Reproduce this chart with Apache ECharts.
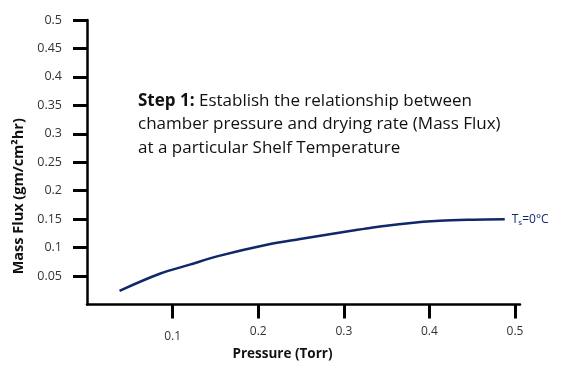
<!DOCTYPE html>
<html>
<head>
<meta charset="utf-8">
<script src="https://cdn.jsdelivr.net/npm/echarts@6/dist/echarts.min.js"></script>
<style>html,body{margin:0;padding:0;background:#fff;}#c{width:567px;height:369px;}</style>
</head>
<body>
<div id="c"></div>
<script>
// Data
var pressure = [0.038, 0.085, 0.120, 0.153, 0.210, 0.249, 0.307, 0.334, 0.373, 0.412, 0.451, 0.488];
var massFlux = [0.024, 0.054, 0.070, 0.085, 0.105, 0.115, 0.129, 0.1355, 0.1425, 0.147, 0.149, 0.150];
var xTicks = [0.1, 0.2, 0.3, 0.4, 0.5];
var yTicks = [0.05, 0.1, 0.15, 0.2, 0.25, 0.3, 0.35, 0.4, 0.45, 0.5];
var seriesName = 'Ts=0°C';
var noteLines = ['Establish the relationship between', 'chamber pressure and drying rate (Mass Flux)', 'at a particular Shelf Temperature'];

var navy = '#10286a';
var font = '"Open Sans", "Noto Sans", sans-serif';
var chart = echarts.init(document.getElementById('c'), null, {renderer: 'canvas'});
var pts = pressure.map(function (p, i) { return [p, massFlux[i]]; });

chart.setOption({
  animation: false,
  backgroundColor: '#fff',
  title: {
    left: 133, top: 84,
    text: '{b|Step 1:} ' + noteLines.join('\n'),
    textStyle: {
      fontFamily: font, fontSize: 17, color: '#111', lineHeight: 23.5, fontWeight: 'normal',
      rich: { b: { fontFamily: font, fontSize: 17, fontWeight: 'bold', color: '#111', lineHeight: 23.5 } }
    }
  },
  grid: { left: 87, top: 20, right: 47, bottom: 64.5, containLabel: false },
  xAxis: {
    type: 'value', min: 0, max: 0.5058,
    name: 'Pressure (Torr)', nameLocation: 'middle', nameGap: 36,
    nameTextStyle: { fontFamily: font, fontSize: 13.5, fontWeight: 'bold', color: '#111', padding: [0, 42, 0, 0] },
    axisLine: { show: true, onZero: false, lineStyle: { color: '#000', width: 2.5 } },
    axisTick: { show: true, customValues: xTicks, length: 14, lineStyle: { color: '#000', width: 3 } },
    axisLabel: {
      customValues: xTicks, margin: 21, fontFamily: font, fontSize: 12, color: '#333',
      formatter: function (v) { var s = String(Math.round(v * 10) / 10); return v < 0.15 ? '{lo|' + s + '}' : s; },
      rich: { lo: { padding: [5, 0, 0, 0], fontFamily: font, fontSize: 12, color: '#333' } }
    },
    splitLine: { show: false }
  },
  yAxis: {
    type: 'value', min: 0, max: 0.5,
    name: 'Mass Flux (gm/cm²hr)', nameLocation: 'middle', nameGap: 61, nameRotate: 90,
    nameTextStyle: { fontFamily: font, fontSize: 14.5, fontWeight: 'bold', color: '#111', padding: [0, 68, 0, 0] },
    axisLine: { show: true, onZero: false, lineStyle: { color: '#000', width: 2.5 } },
    axisTick: { show: true, customValues: yTicks, length: 14, lineStyle: { color: '#000', width: 3 } },
    axisLabel: {
      customValues: yTicks, margin: 25, fontFamily: font, fontSize: 12.5, color: '#333',
      formatter: function (v) { return String(Math.round(v * 100) / 100); }
    },
    splitLine: { show: false }
  },
  series: [{
    type: 'line', name: seriesName, data: pts, smooth: 0.35, showSymbol: false,
    lineStyle: { color: navy, width: 2.5 },
    endLabel: {
      show: true, distance: 7, color: navy,
      formatter: '{t|T}{s|s}{t|=0°C}',
      rich: {
        t: { fontFamily: font, fontSize: 12, color: navy },
        s: { fontFamily: font, fontSize: 8, color: navy, padding: [8, 0, 0, 0] }
      }
    }
  }]
});
</script>
</body>
</html>
